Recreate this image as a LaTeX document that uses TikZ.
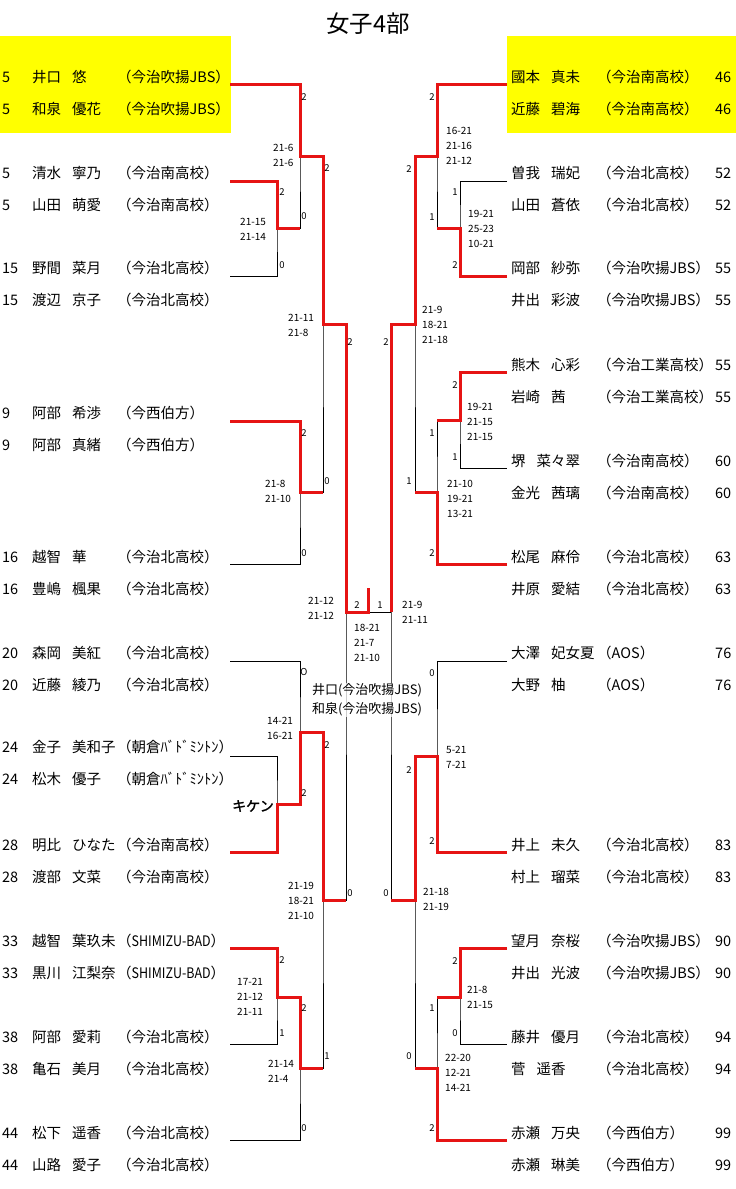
\documentclass[tikz,border=0pt]{standalone}
\usepackage{graphicx}
\usepackage{fontspec}
\setmainfont{Noto Sans CJK JP}
\newfontfamily\boldjp{Noto Sans CJK JP}[FakeBold=1.5]
\definecolor{brk}{RGB}{230,20,20}
\definecolor{hl}{RGB}{255,255,0}
\tikzset{
  win/.style={draw=brk, line width=3pt, line join=miter},
  brline/.style={draw=black, line width=1pt},
  rowtext/.style={anchor=base west, inner sep=0pt, font=\fontsize{14.5}{17}\selectfont},
  sc/.style={anchor=west, inner sep=0pt, align=left, font=\fontsize{10}{15}\selectfont},
  lbl/.style={inner sep=0pt, font=\fontsize{9.5}{11}\selectfont},
}
\newcommand\gap{\hspace{11pt}}
\newcommand\rowL[6]{\node[rowtext] (#1) at (2,#2+5) {\makebox[30pt][l]{#3}\makebox[85pt][l]{#4\gap#5}#6};}
\newcommand\rowR[6]{\node[rowtext] (#1) at (511,#2+5) {\makebox[86pt][l]{#3\gap#4}\makebox[118pt][l]{#5}#6};}
\newcommand\narrow[1]{\scalebox{0.86}[1]{#1}}
\begin{document}
\begin{tikzpicture}[x=1pt,y=-1pt]
\path[use as bounding box] (0,0) rectangle (736,1189);
% highlight boxes
\fill[hl] (0,36) rectangle (231,133);
\fill[hl] (507,36) rectangle (736,133);
% title
\node[inner sep=0pt, font=\fontsize{23.5}{25}\selectfont] (title) at (368,24) {女子4部};
% entry points
\coordinate (Lp1) at (230,84);
\coordinate (Lp2) at (230,181);
\coordinate (Lp3) at (230,276);
\coordinate (Lp4) at (230,421);
\coordinate (Lp5) at (230,564);
\coordinate (Lp6) at (230,661);
\coordinate (Lp7) at (230,756);
\coordinate (Lp8) at (230,852);
\coordinate (Lp9) at (230,948);
\coordinate (Lp10) at (230,1044);
\coordinate (Lp11) at (230,1140);
\coordinate (Rp1) at (507,84);
\coordinate (Rp2) at (507,181);
\coordinate (Rp3) at (507,276);
\coordinate (Rp4) at (507,372);
\coordinate (Rp5) at (507,468);
\coordinate (Rp6) at (507,564);
\coordinate (Rp7) at (507,661);
\coordinate (Rp8) at (507,852);
\coordinate (Rp9) at (507,948);
\coordinate (Rp10) at (507,1044);
\coordinate (Rp11) at (507,1140);
% junctions
\coordinate (La1) at (277,228);
\coordinate (La2) at (277,804);
\coordinate (La3) at (277,997);
\coordinate (Lb1) at (300,156);
\coordinate (Lb2) at (300,492);
\coordinate (Lb3) at (300,732);
\coordinate (Lb4) at (300,1068);
\coordinate (Lc1) at (323,324);
\coordinate (Lc2) at (323,900);
\coordinate (Ld) at (346,612);
\coordinate (Ftop) at (368,588);
\coordinate (Ra1) at (460,228);
\coordinate (Ra2) at (460,420);
\coordinate (Ra3) at (460,997);
\coordinate (Rb1) at (437,156);
\coordinate (Rb2) at (437,492);
\coordinate (Rb3) at (437,756);
\coordinate (Rb4) at (437,1068);
\coordinate (Rc1) at (415,324);
\coordinate (Rc2) at (415,900);
\coordinate (Rd) at (391,612);
% black bracket
\draw[brline] (Lp2) -| (La1) |- (Lp3);
\draw[brline] (Lp7) -| (La2) |- (Lp8);
\draw[brline] (Lp9) -| (La3) |- (Lp10);
\draw[brline] (Lp1) -| (Lb1) |- (La1);
\draw[brline] (Lp4) -| (Lb2) |- (Lp5);
\draw[brline] (Lp6) -| (Lb3) |- (La2);
\draw[brline] (La3) -| (Lb4) |- (Lp11);
\draw[brline] (Lb1) -| (Lc1) |- (Lb2);
\draw[brline] (Lb3) -| (Lc2) |- (Lb4);
\draw[brline] (Lc1) -| (Ld) |- (Lc2);
\draw[brline] (Rp2) -| (Ra1) |- (Rp3);
\draw[brline] (Rp4) -| (Ra2) |- (Rp5);
\draw[brline] (Rp9) -| (Ra3) |- (Rp10);
\draw[brline] (Rp1) -| (Rb1) |- (Ra1);
\draw[brline] (Ra2) -| (Rb2) |- (Rp6);
\draw[brline] (Rp7) -| (Rb3) |- (Rp8);
\draw[brline] (Ra3) -| (Rb4) |- (Rp11);
\draw[brline] (Rb1) -| (Rc1) |- (Rb2);
\draw[brline] (Rb3) -| (Rc2) |- (Rb4);
\draw[brline] (Rc1) -| (Rd) |- (Rc2);
\draw[brline] (Ld) -- (Rd);
% winners
\draw[win] (Lp1) -| (Lb1) -| (Lc1) -| (Ld) -| (Ftop);
\draw[win] (Lp2) -| (La1) -- (La1 -| Lb1);
\draw[win] (Lp4) -| (Lb2) -- (Lb2 -| Lc1);
\draw[win] (Lp8) -| (La2) -| (Lb3) -| (Lc2) -- (Lc2 -| Ld);
\draw[win] (Lp9) -| (La3) -| (Lb4) -- (Lb4 -| Lc2);
\draw[win] (Rp1) -| (Rb1) -| (Rc1) -| (Rd);
\draw[win] (Rp3) -| (Ra1) -- (Ra1 -| Rb1);
\draw[win] (Rp4) -| (Ra2) -- (Ra2 -| Rb2);
\draw[win] (Rp6) -| (Rb2) -- (Rb2 -| Rc1);
\draw[win] (Rp8) -| (Rb3) -| (Rc2) -- (Rc2 -| Rd);
\draw[win] (Rp9) -| (Ra3) -- (Ra3 -| Rb4);
\draw[win] (Rp11) -| (Rb4) -- (Rb4 -| Rc2);
% left rows
\rowL{l1}{77}{5}{井口}{悠}{（今治吹揚JBS）}
\rowL{l2}{109}{5}{和泉}{優花}{（今治吹揚JBS）}
\rowL{l3}{173}{5}{清水}{寧乃}{（今治南高校）}
\rowL{l4}{205}{5}{山田}{萌愛}{（今治南高校）}
\rowL{l5}{268}{15}{野間}{菜月}{（今治北高校）}
\rowL{l6}{300}{15}{渡辺}{京子}{（今治北高校）}
\rowL{l7}{413}{9}{阿部}{希渉}{（今西伯方）}
\rowL{l8}{445}{9}{阿部}{真緒}{（今西伯方）}
\rowL{l9}{557}{16}{越智}{華}{（今治北高校）}
\rowL{l10}{589}{16}{豊嶋}{楓果}{（今治北高校）}
\rowL{l11}{653}{20}{森岡}{美紅}{（今治北高校）}
\rowL{l12}{685}{20}{近藤}{綾乃}{（今治北高校）}
\rowL{l13}{747}{24}{金子}{美和子}{（朝倉ﾊﾞﾄﾞﾐﾝﾄﾝ）}
\rowL{l14}{779}{24}{松木}{優子}{（朝倉ﾊﾞﾄﾞﾐﾝﾄﾝ）}
\rowL{l15}{845}{28}{明比}{ひなた}{（今治南高校）}
\rowL{l16}{877}{28}{渡部}{文菜}{（今治南高校）}
\rowL{l17}{941}{33}{越智}{葉玖未}{（\narrow{SHIMIZU-BAD}）}
\rowL{l18}{973}{33}{黒川}{江梨奈}{（\narrow{SHIMIZU-BAD}）}
\rowL{l19}{1037}{38}{阿部}{愛莉}{（今治北高校）}
\rowL{l20}{1069}{38}{亀石}{美月}{（今治北高校）}
\rowL{l21}{1133}{44}{松下}{遥香}{（今治北高校）}
\rowL{l22}{1165}{44}{山路}{愛子}{（今治北高校）}
% right rows
\rowR{r1}{77}{國本}{真未}{（今治南高校）}{46}
\rowR{r2}{109}{近藤}{碧海}{（今治南高校）}{46}
\rowR{r3}{173}{曽我}{瑞妃}{（今治北高校）}{52}
\rowR{r4}{205}{山田}{蒼依}{（今治北高校）}{52}
\rowR{r5}{268}{岡部}{紗弥}{（今治吹揚JBS）}{55}
\rowR{r6}{300}{井出}{彩波}{（今治吹揚JBS）}{55}
\rowR{r7}{365}{熊木}{心彩}{（今治工業高校）}{55}
\rowR{r8}{397}{岩崎}{茜}{（今治工業高校）}{55}
\rowR{r9}{461}{堺}{菜々翠}{（今治南高校）}{60}
\rowR{r10}{493}{金光}{茜璃}{（今治南高校）}{60}
\rowR{r11}{557}{松尾}{麻伶}{（今治北高校）}{63}
\rowR{r12}{589}{井原}{愛結}{（今治北高校）}{63}
\rowR{r13}{653}{大澤}{妃女夏}{（AOS）}{76}
\rowR{r14}{685}{大野}{柚}{（AOS）}{76}
\rowR{r15}{845}{井上}{未久}{（今治北高校）}{83}
\rowR{r16}{877}{村上}{瑠菜}{（今治北高校）}{83}
\rowR{r17}{941}{望月}{奈桜}{（今治吹揚JBS）}{90}
\rowR{r18}{973}{井出}{光波}{（今治吹揚JBS）}{90}
\rowR{r19}{1037}{藤井}{優月}{（今治北高校）}{94}
\rowR{r20}{1069}{菅}{遥香}{（今治北高校）}{94}
\rowR{r21}{1133}{赤瀬}{万央}{（今西伯方）}{99}
\rowR{r22}{1165}{赤瀬}{琳美}{（今西伯方）}{99}
% scores left
\node[sc] (s1) at (273,155.5) {21-6\\21-6};
\node[sc] (s2) at (240,229.5) {21-15\\21-14};
\node[sc] (s3) at (288,325.5) {21-11\\21-8};
\node[sc] (s4) at (265,491.5) {21-8\\21-10};
\node[sc] (s5) at (308,608.5) {21-12\\21-12};
\node[sc] (s6) at (267,728.5) {14-21\\16-21};
\node[sc] (s7) at (288,901) {21-19\\18-21\\21-10};
\node[sc] (s8) at (237,997) {17-21\\21-12\\21-11};
\node[sc] (s9) at (268,1071.5) {21-14\\21-4};
\node[sc] (s10) at (354,643) {18-21\\21-7\\21-10};
% scores right
\node[sc] (t1) at (446,146) {16-21\\21-16\\21-12};
\node[sc] (t2) at (468,229) {19-21\\25-23\\10-21};
\node[sc] (t3) at (422,325) {21-9\\18-21\\21-18};
\node[sc] (t4) at (467,422) {19-21\\21-15\\21-15};
\node[sc] (t5) at (447,499) {21-10\\19-21\\13-21};
\node[sc] (t6) at (402,612) {21-9\\21-11};
\node[sc] (t7) at (446,757.5) {5-21\\7-21};
\node[sc] (t8) at (423,899.5) {21-18\\21-19};
\node[sc] (t9) at (467,997.5) {21-8\\21-15};
\node[sc] (t10) at (445,1073) {22-20\\12-21\\14-21};
% game counts left
\node[lbl] (a1) at (304,97) {2};
\node[lbl] (a2) at (282,192) {2};
\node[lbl] (a3) at (282,265) {0};
\node[lbl] (a4) at (304,216) {0};
\node[lbl] (a5) at (327,168) {2};
\node[lbl] (a6) at (350,342) {2};
\node[lbl] (a7) at (304,433) {2};
\node[lbl] (a8) at (304,553) {0};
\node[lbl] (a9) at (327,481) {0};
\node[lbl] (a10) at (357,605) {2};
\node[lbl] (a11) at (304,672) {O};
\node[lbl] (a12) at (304,793) {2};
\node[lbl] (a13) at (327,745) {2};
\node[lbl] (a14) at (350,893) {0};
\node[lbl] (a15) at (282,960) {2};
\node[lbl] (a16) at (282,1033) {1};
\node[lbl] (a17) at (304,1008) {2};
\node[lbl] (a18) at (304,1128) {0};
\node[lbl] (a19) at (327,1056) {1};
% game counts right
\node[lbl] (b1) at (432,97) {2};
\node[lbl] (b2) at (409,169) {2};
\node[lbl] (b3) at (455,192) {1};
\node[lbl] (b4) at (455,265) {2};
\node[lbl] (b5) at (432,217) {1};
\node[lbl] (b6) at (386,342) {2};
\node[lbl] (b7) at (455,385) {2};
\node[lbl] (b8) at (455,457) {1};
\node[lbl] (b9) at (432,433) {1};
\node[lbl] (b10) at (432,553) {2};
\node[lbl] (b11) at (409,481) {1};
\node[lbl] (b12) at (380,605) {1};
\node[lbl] (b13) at (432,673) {0};
\node[lbl] (b14) at (432,841) {2};
\node[lbl] (b15) at (409,770) {2};
\node[lbl] (b16) at (386,893) {0};
\node[lbl] (b17) at (455,961) {2};
\node[lbl] (b18) at (455,1033) {0};
\node[lbl] (b19) at (432,1008) {1};
\node[lbl] (b20) at (432,1128) {2};
\node[lbl] (b21) at (409,1056) {0};
% retirement mark
\node[inner sep=0pt, font=\boldjp\fontsize{14}{16}\selectfont] (kiken) at (253,806) {キケン};
% champion
\node[inner sep=1pt, fill=white, fill opacity=0.7, text opacity=1, align=center,
      font=\fontsize{13}{19}\selectfont] (champ) at (367,700) {井口(今治吹揚JBS)\\和泉(今治吹揚JBS)};
\end{tikzpicture}
\end{document}
